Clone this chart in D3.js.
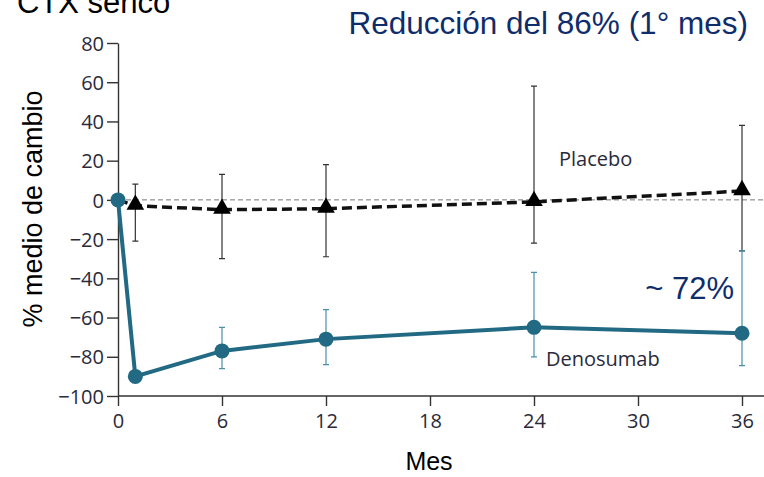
<!DOCTYPE html>
<html>
<head>
<meta charset="utf-8">
<script src="https://cdn.jsdelivr.net/npm/d3@7"></script>
<style>
  body { margin: 0; background: #fff; }
  svg { display: block; }
</style>
</head>
<body>
<div id="viz"></div>
<script>
// Datos
const months = [0, 1, 6, 12, 24, 36];
const placebo = [0, -3, -5, -4.5, -1, 4.5];
const placeboHi = [null, 8, 13, 18, 58, 38];
const placeboLo = [null, -21, -30, -29, -22, -26];
const denosumab = [0, -90, -77, -71, -65, -68];
const denoHi = [null, null, -65, -56, -37, -26];
const denoLo = [null, null, -86, -84, -80, -84.5];
const xTicks = [0, 6, 12, 18, 24, 30, 36];
const yTicks = [80, 60, 40, 20, 0, -20, -40, -60, -80, -100];

const width = 764, height = 477;
const svg = d3.select("#viz").append("svg")
    .attr("width", width).attr("height", height);

const x = d3.scaleLinear().domain([0, 36]).range([118, 742]);
const y = d3.scaleLinear().domain([-100, 80]).range([396, 43]);

const tickFont = "'Open Sans', sans-serif";
const sansFont = "'Liberation Sans', Arial, sans-serif";
const blue = "#226984";
const blueBar = "#4b8fa8";
const navy = "#0f2c6b";

// ejes
const xAxis = svg.append("g")
    .attr("transform", `translate(0,${y(-100)})`)
    .call(d3.axisBottom(x).tickValues(xTicks).tickSize(10).tickSizeOuter(0));
xAxis.select(".domain").attr("d", `M118,0H764`);

const yAxis = svg.append("g")
    .attr("transform", `translate(${x(0)},0)`)
    .call(d3.axisLeft(y).tickValues(yTicks).tickSize(11).tickSizeOuter(0)
        .tickFormat(d => d < 0 ? "\u2212" + Math.abs(d) : d));

[xAxis, yAxis].forEach(a => {
    a.select(".domain").attr("stroke", "#333").attr("stroke-width", 1.4);
    a.selectAll(".tick line").attr("stroke", "#333").attr("stroke-width", 1.4);
    a.selectAll(".tick text")
        .attr("fill", "#2a2a3a")
        .style("font-family", tickFont)
        .style("font-size", "20px");
});
xAxis.selectAll(".tick text").attr("y", 32).attr("dy", null);
yAxis.selectAll(".tick text").attr("x", -14).attr("dy", "0.36em");

// línea de referencia en 0
svg.append("line")
    .attr("x1", x(0)).attr("x2", 764)
    .attr("y1", y(0)).attr("y2", y(0))
    .attr("stroke", "#777").attr("stroke-width", 1)
    .attr("stroke-dasharray", "5,3");

const idx = d3.range(months.length);

// barras de error placebo
const pBars = idx.filter(i => placeboHi[i] !== null);
svg.selectAll(".pbar").data(pBars).enter().append("path")
    .attr("class", "pbar")
    .attr("d", i => {
        const cx = x(months[i]), t = y(placeboHi[i]), b = y(placeboLo[i]);
        return `M${cx},${t}V${b}M${cx - 3},${t}H${cx + 3}M${cx - 3},${b}H${cx + 3}`;
    })
    .attr("stroke", "#333").attr("stroke-width", 1.2).attr("fill", "none");

// barras de error denosumab
const dBars = idx.filter(i => denoHi[i] !== null);
svg.selectAll(".dbar").data(dBars).enter().append("path")
    .attr("class", "dbar")
    .attr("d", i => {
        const cx = x(months[i]), t = y(denoHi[i]), b = y(denoLo[i]);
        return `M${cx},${t}V${b}M${cx - 3},${t}H${cx + 3}M${cx - 3},${b}H${cx + 3}`;
    })
    .attr("stroke", blueBar).attr("stroke-width", 1.2).attr("fill", "none");

// línea placebo
const line = d3.line().x(i => x(months[i]));
svg.append("path")
    .attr("d", line.y(i => y(placebo[i]))(idx))
    .attr("fill", "none").attr("stroke", "#111")
    .attr("stroke-width", 3.5).attr("stroke-dasharray", "10,5");

// línea denosumab
svg.append("path")
    .attr("d", line.y(i => y(denosumab[i]))(idx))
    .attr("fill", "none").attr("stroke", blue)
    .attr("stroke-width", 4);

// triángulos placebo
const tri = d3.symbol().type(d3.symbolTriangle).size(135);
svg.selectAll(".tri").data(idx.slice(1)).enter().append("path")
    .attr("class", "tri")
    .attr("transform", i => `translate(${x(months[i])},${y(placebo[i]) - 1})`)
    .attr("d", tri)
    .attr("fill", "#000");

// círculos denosumab
svg.selectAll(".dot").data(idx).enter().append("circle")
    .attr("cx", i => x(months[i]))
    .attr("cy", i => y(denosumab[i]))
    .attr("r", 7.5)
    .attr("fill", blue);

// etiquetas de series
svg.append("text").attr("x", 559).attr("y", 166)
    .text("Placebo")
    .attr("fill", "#2a2a3a").style("font-family", tickFont).style("font-size", "20px");
svg.append("text").attr("x", 546).attr("y", 366)
    .text("Denosumab")
    .attr("fill", "#2a2a3a").style("font-family", tickFont).style("font-size", "20px");

// anotaciones
svg.append("text").attr("x", 734).attr("y", 299).attr("text-anchor", "end")
    .text("~ 72%")
    .attr("fill", navy).style("font-family", sansFont)
    .style("font-size", "31px");
svg.append("text").attr("x", 748).attr("y", 34).attr("text-anchor", "end")
    .text("Reducción del 86% (1° mes)")
    .attr("fill", navy).style("font-family", sansFont)
    .style("font-size", "31.5px");
svg.append("text").attr("x", 17).attr("y", 13)
    .text("CTX sérico")
    .attr("fill", "#000").style("font-family", sansFont)
    .style("font-size", "31px");

// títulos de ejes
svg.append("text").attr("x", 429).attr("y", 470).attr("text-anchor", "middle")
    .text("Mes")
    .attr("fill", "#000").style("font-family", sansFont)
    .style("font-size", "25px");
svg.append("text")
    .attr("transform", "translate(42,209) rotate(-90)")
    .attr("text-anchor", "middle")
    .text("% medio de cambio")
    .attr("fill", "#000").style("font-family", sansFont)
    .style("font-size", "27px");
</script>
</body>
</html>
